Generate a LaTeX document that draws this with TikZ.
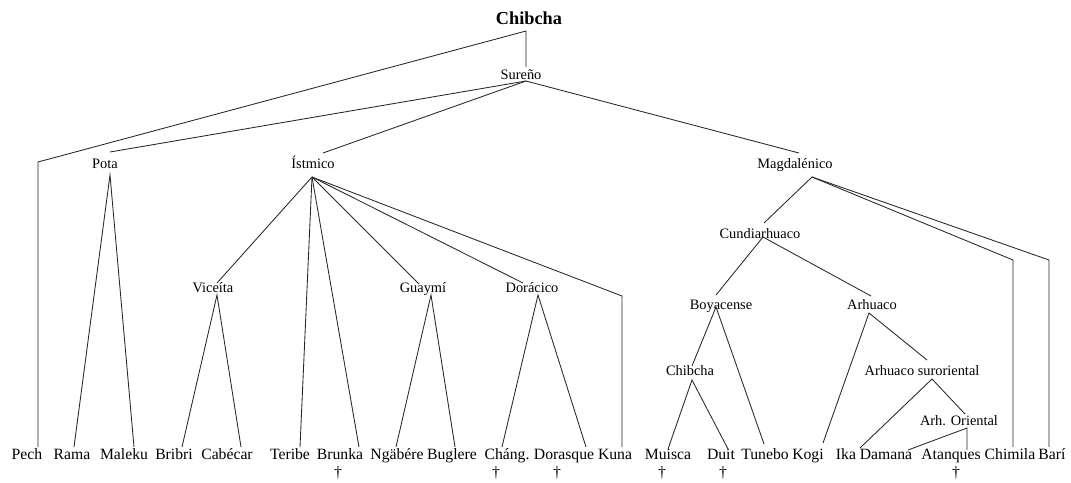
\documentclass[tikz,border=0pt]{standalone}
\usepackage{fontspec}
\setmainfont{Liberation Serif}
\newcommand\leaffnt{\fontsize{15.7}{18}\selectfont}
\newcommand\innerfnt{\fontsize{14.4}{17}\selectfont}
\newcommand\titlefnt{\fontsize{18.3}{21}\selectfont\bfseries}
\begin{document}
\begin{tikzpicture}[x=1pt,y=-1pt,
  leaf/.style={font=\leaffnt, anchor=base, inner sep=0pt},
  lab/.style={font=\innerfnt, anchor=base, inner sep=0pt},
  dag/.style={font=\leaffnt, anchor=base, inner sep=0pt},
  edge/.style={line width=0.85pt, draw=black!85}]
\useasboundingbox (0,0) rectangle (1071,482);
% title and internal labels
\node[font=\titlefnt, anchor=base, inner sep=0pt] (title) at (529,24) {Chibcha};
\node[lab] (sur) at (521,79) {Sureño};
\node[lab] (pota) at (105,168) {Pota};
\node[lab] (ist) at (313,168) {Ístmico};
\node[lab] (mag) at (795,168) {Magdalénico};
\node[lab] (vic) at (213,292) {Viceíta};
\node[lab] (guay) at (423,292) {Guaymí};
\node[lab] (dor) at (532,292) {Dorácico};
\node[lab] (cun) at (760,238) {Cundiarhuaco};
\node[lab] (boy) at (721,309) {Boyacense};
\node[lab] (arh) at (872,309) {Arhuaco};
\node[lab] (chi) at (690,375) {Chibcha};
\node[lab] (aso) at (922,375) {Arhuaco suroriental};
\node[lab] (aor) at (959,425) {Arh. Oriental};
% leaves
\node[leaf] (pech) at (27,459) {Pech};
\node[leaf] (rama) at (72,459) {Rama};
\node[leaf] (maleku) at (124,459) {Maleku};
\node[leaf] (bribri) at (174,459) {Bribri};
\node[leaf] (cabecar) at (227,459) {Cabécar};
\node[leaf] (teribe) at (290,459) {Teribe};
\node[leaf] (brunka) at (340,459) {Brunka};
\node[leaf] (ngabere) at (397,459) {Ngäbére};
\node[leaf] (buglere) at (452,459) {Buglere};
\node[leaf] (chang) at (507,459) {Cháng.};
\node[leaf] (dorasque) at (564,459) {Dorasque};
\node[leaf] (kuna) at (615,459) {Kuna};
\node[leaf] (muisca) at (668,459) {Muisca};
\node[leaf] (duit) at (721,459) {Duit};
\node[leaf] (tunebo) at (765,459) {Tunebo};
\node[leaf] (kogi) at (808,459) {Kogi};
\node[leaf] (ika) at (846,459) {Ika};
\node[leaf] (damana) at (886,459) {Damana};
\node[leaf] (atanques) at (951,459) {Atanques};
\node[leaf] (chimila) at (1010,459) {Chimila};
\node[leaf] (bari) at (1052,459) {Barí};
% daggers
\node[dag] (d1) at (338,477) {†};
\node[dag] (d2) at (496,477) {†};
\node[dag] (d3) at (557,477) {†};
\node[dag] (d4) at (662,477) {†};
\node[dag] (d5) at (723,477) {†};
\node[dag] (d6) at (956,477) {†};
% connection points
\coordinate (root) at (526,31);
\coordinate (sur-t) at (526,67);
\coordinate (sur-b) at (526,81);
\coordinate (pech-c) at (38,162);
\coordinate (pech-t) at (38,447);
\coordinate (pota-t) at (110,152);
\coordinate (pota-b) at (110,175);
\coordinate (rama-t) at (74,447);
\coordinate (maleku-t) at (134,447);
\coordinate (ist-t) at (323,153);
\coordinate (ist-b) at (312,177);
\coordinate (vic-t) at (217,283);
\coordinate (vic-b) at (217,295);
\coordinate (bribri-t) at (182,447);
\coordinate (cabecar-t) at (241,447);
\coordinate (teribe-t) at (300,447);
\coordinate (brunka-t) at (359,447);
\coordinate (guay-t) at (419,284);
\coordinate (guay-b) at (431,295);
\coordinate (ngabere-t) at (396,447);
\coordinate (buglere-t) at (455,447);
\coordinate (dor-t) at (523,283);
\coordinate (dor-b) at (538,295);
\coordinate (chang-t) at (502,447);
\coordinate (dorasque-t) at (586,447);
\coordinate (kuna-c) at (622,296);
\coordinate (kuna-t) at (622,447);
\coordinate (mag-t) at (799,153);
\coordinate (mag-b) at (812,177);
\coordinate (cun-t) at (764,223);
\coordinate (cun-b) at (763,237);
\coordinate (boy-t) at (716,295);
\coordinate (boy-b) at (716,307);
\coordinate (arh-t) at (871,296);
\coordinate (arh-b) at (869,313);
\coordinate (chi-t) at (692,366);
\coordinate (chi-b) at (692,380);
\coordinate (muisca-t) at (668,449);
\coordinate (duit-t) at (728,449);
\coordinate (tunebo-t) at (764,444);
\coordinate (kogi-t) at (823,443);
\coordinate (aso-t) at (927,360);
\coordinate (aso-b) at (932,379);
\coordinate (aor-t) at (965,414);
\coordinate (aor-b) at (967,428);
\coordinate (ika-t) at (860,448);
\coordinate (damana-t) at (908,450);
\coordinate (atanques-t) at (967,450);
\coordinate (chimila-c) at (1013,260);
\coordinate (chimila-t) at (1013,447);
\coordinate (bari-c) at (1049,260);
\coordinate (bari-t) at (1049,447);
% connectors
\draw[edge] (sur-t) -- (root) -- (pech-c) -- (pech-t);
\draw[edge] (sur-b) -- (pota-t);
\draw[edge] (sur-b) -- (ist-t);
\draw[edge] (sur-b) -- (mag-t);
\draw[edge] (rama-t) -- (pota-b) -- (maleku-t);
\draw[edge] (ist-b) -- (vic-t);
\draw[edge] (ist-b) -- (teribe-t);
\draw[edge] (ist-b) -- (brunka-t);
\draw[edge] (ist-b) -- (guay-t);
\draw[edge] (ist-b) -- (dor-t);
\draw[edge] (ist-b) -- (kuna-c) -- (kuna-t);
\draw[edge] (bribri-t) -- (vic-b) -- (cabecar-t);
\draw[edge] (ngabere-t) -- (guay-b) -- (buglere-t);
\draw[edge] (chang-t) -- (dor-b) -- (dorasque-t);
\draw[edge] (mag-b) -- (cun-t);
\draw[edge] (mag-b) -- (chimila-c) -- (chimila-t);
\draw[edge] (mag-b) -- (bari-c) -- (bari-t);
\draw[edge] (boy-t) -- (cun-b) -- (arh-t);
\draw[edge] (chi-t) -- (boy-b) -- (tunebo-t);
\draw[edge] (muisca-t) -- (chi-b) -- (duit-t);
\draw[edge] (kogi-t) -- (arh-b) -- (aso-t);
\draw[edge] (ika-t) -- (aso-b) -- (aor-t);
\draw[edge] (damana-t) -- (aor-b) -- (atanques-t);
\end{tikzpicture}
\end{document}
